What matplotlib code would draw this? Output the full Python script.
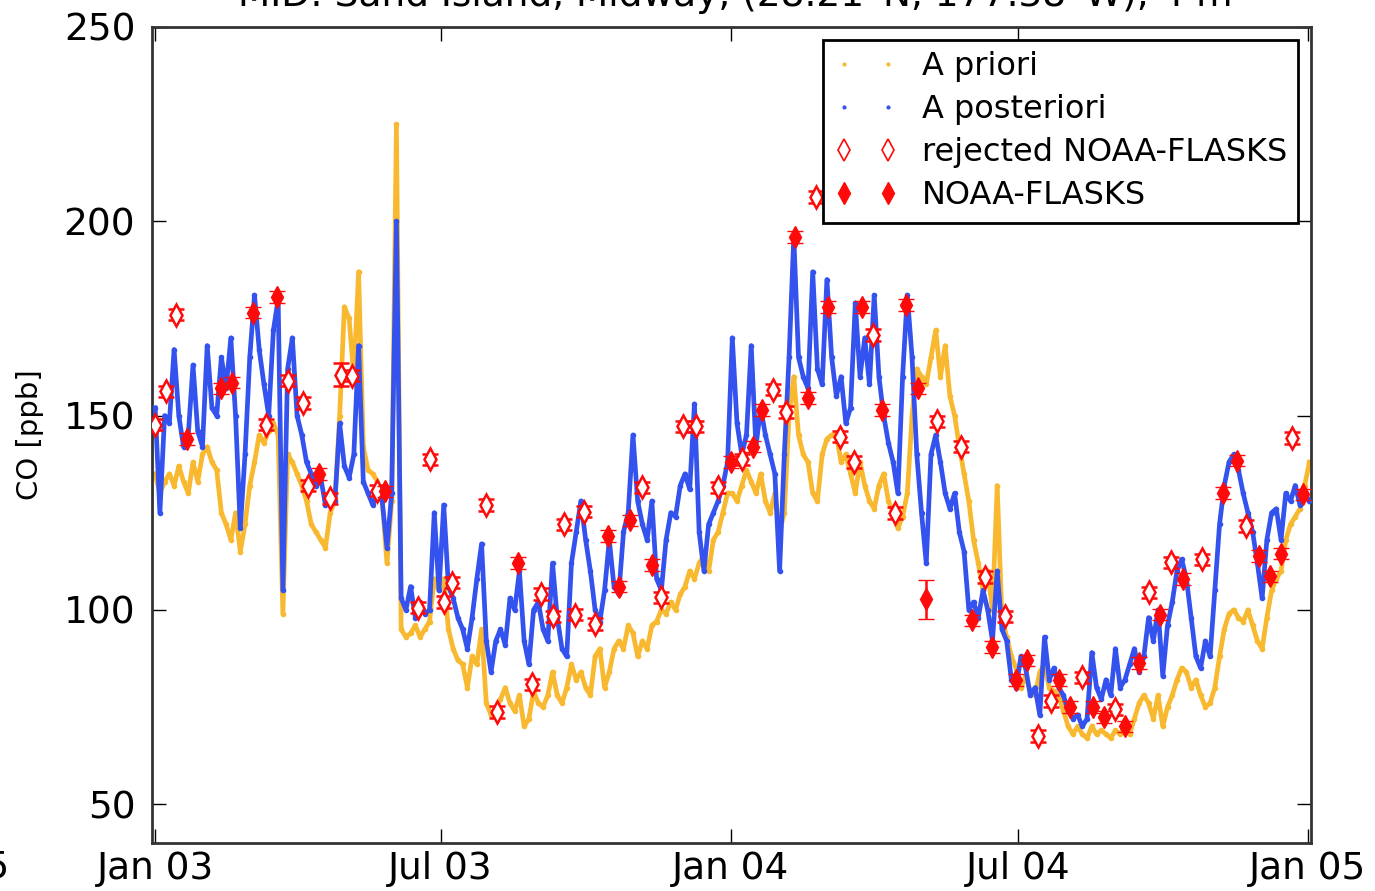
import matplotlib
matplotlib.use("Agg")
import matplotlib.pyplot as plt
import matplotlib.dates as mdates
from matplotlib.lines import Line2D
import pandas as pd

plt.rcParams['font.family'] = ['DejaVu Sans']

title = "MID: Sand Island, Midway, (28.21°N, 177.38°W), 4 m"

# model time series, one value every 3 days from 2003-01-01
model_start = "2003-01-01"
model_step = "3D"

prior = [
    135, 130, 133, 135, 132, 137, 133, 130, 138, 133,
    140, 142, 138, 136, 125, 122, 118, 125, 115, 122,
    132, 138, 145, 143, 146, 148, 145, 99, 140, 138,
    135, 132, 128, 122, 120, 118, 116, 125, 128, 150,
    178, 175, 160, 187, 142, 136, 135, 133, 128, 112,
    128, 225, 95, 93, 94, 96, 93, 95, 97, 108,
    105, 108, 95, 90, 87, 86, 80, 88, 86, 95,
    76, 73, 74, 77, 80, 76, 74, 78, 70, 72,
    79, 76, 75, 78, 84, 78, 76, 80, 86, 82,
    84, 80, 78, 88, 90, 80, 84, 90, 92, 90,
    96, 94, 88, 92, 90, 96, 97, 100, 99, 102,
    100, 104, 106, 110, 108, 112, 114, 110, 118, 120,
    125, 130, 130, 128, 132, 136, 133, 130, 135, 128,
    125, 130, 120, 125, 150, 160, 145, 140, 138, 130,
    128, 140, 144, 145, 145, 138, 140, 135, 130, 138,
    132, 128, 126, 132, 135, 128, 125, 121, 124, 130,
    150, 162, 160, 158, 165, 172, 160, 168, 155, 150,
    142, 135, 128, 118, 112, 105, 110, 100, 132, 98,
    93, 88, 85, 80, 83, 79, 78, 84, 86, 80,
    79, 78, 74, 70, 68, 70, 68, 67, 70, 68,
    69, 68, 67, 69, 68, 70, 68, 72, 76, 78,
    76, 72, 78, 70, 75, 78, 82, 85, 84, 80,
    82, 78, 75, 76, 80, 88, 95, 99, 100, 98,
    97, 100, 96, 92, 90, 98, 105, 108, 110, 118,
    122, 124, 126, 132, 138,
]

posterior = [
    152, 125, 150, 148, 167, 150, 142, 145, 163, 146,
    142, 168, 152, 150, 165, 157, 170, 150, 121, 140,
    165, 181, 167, 158, 150, 172, 180, 105, 162, 170,
    150, 145, 138, 135, 132, 134, 127, 130, 128, 148,
    137, 134, 140, 168, 133, 130, 127, 130, 128, 116,
    130, 200, 103, 100, 106, 98, 102, 99, 100, 125,
    105, 127, 106, 103, 98, 95, 90, 98, 108, 117,
    92, 84, 92, 95, 91, 103, 100, 110, 92, 86,
    100, 102, 95, 92, 112, 98, 90, 88, 112, 120,
    128, 118, 110, 100, 97, 105, 118, 106, 104, 120,
    125, 145, 128, 122, 118, 128, 108, 105, 118, 125,
    124, 132, 135, 131, 153, 120, 110, 122, 125, 128,
    132, 138, 170, 148, 140, 145, 168, 142, 152, 145,
    140, 135, 110, 140, 165, 196, 165, 160, 157, 187,
    162, 158, 185, 165, 155, 160, 148, 152, 179, 160,
    170, 158, 181, 160, 150, 143, 138, 130, 160, 181,
    165, 140, 125, 112, 140, 145, 138, 130, 126, 130,
    120, 115, 100, 102, 98, 105, 100, 92, 110, 95,
    92, 82, 80, 88, 85, 78, 80, 73, 93, 82,
    85, 80, 78, 74, 72, 73, 70, 72, 89, 80,
    77, 82, 78, 90, 80, 82, 86, 90, 84, 88,
    98, 92, 100, 83, 96, 102, 110, 113, 108, 98,
    88, 85, 92, 88, 105, 122, 132, 138, 140, 136,
    130, 125, 120, 112, 103, 118, 125, 126, 118, 130,
    128, 132, 127, 130, 128,
]

# NOAA flask samples used in the inversion
flask_dates = [
    "2003-01-21", "2003-02-12", "2003-02-19", "2003-03-04", "2003-03-19",
    "2003-04-15", "2003-05-27", "2003-08-19", "2003-10-15", "2003-10-22",
    "2003-10-29", "2003-11-12", "2004-01-01", "2004-01-15", "2004-01-21",
    "2004-02-11", "2004-02-19", "2004-03-03", "2004-03-24", "2004-04-06",
    "2004-04-21", "2004-04-29", "2004-05-04", "2004-06-02", "2004-06-15",
    "2004-06-30", "2004-07-07", "2004-07-27", "2004-08-03", "2004-08-18",
    "2004-08-25", "2004-09-07", "2004-09-16", "2004-09-29", "2004-10-14",
    "2004-11-08", "2004-11-17", "2004-12-01", "2004-12-08", "2004-12-15",
    "2004-12-29",
]
flask_co = [
    144.0, 157.0, 158.5, 176.5, 180.5,
    135.0, 130.5, 112.0, 119.0, 106.0,
    123.0, 111.5, 138.0, 142.0, 151.5,
    196.0, 154.5, 178.0, 178.0, 151.5,
    178.5, 157.0, 102.7, 97.3, 90.4,
    82.0, 87.0, 82.0, 75.0, 75.0,
    72.5, 70.0, 86.3, 98.8, 108.0,
    130.0, 138.4, 113.8, 108.6, 114.5,
    129.7,
]
flask_err = [
    1.5, 1.5, 1.5, 1.5, 1.5,
    1.5, 1.5, 1.5, 1.5, 1.5,
    1.5, 1.5, 1.5, 1.5, 1.5,
    1.5, 1.5, 1.5, 1.5, 1.5,
    1.5, 1.5, 5.0, 1.5, 1.5,
    1.5, 1.5, 1.5, 1.5, 1.5,
    1.5, 1.5, 1.5, 1.5, 1.5,
    1.5, 1.5, 1.5, 1.5, 1.5,
    1.5,
]

# NOAA flask samples rejected by the inversion
rejected_dates = [
    "2003-01-01", "2003-01-08", "2003-01-14", "2003-03-12", "2003-03-26",
    "2003-04-05", "2003-04-08", "2003-04-22", "2003-04-29", "2003-05-06",
    "2003-05-22", "2003-06-17", "2003-06-24", "2003-07-03", "2003-07-08",
    "2003-07-30", "2003-08-06", "2003-08-28", "2003-09-03", "2003-09-10",
    "2003-09-17", "2003-09-24", "2003-09-30", "2003-10-07", "2003-11-06",
    "2003-11-18", "2003-12-02", "2003-12-10", "2003-12-24", "2004-01-08",
    "2004-01-28", "2004-02-05", "2004-02-24", "2004-03-10", "2004-03-19",
    "2004-03-31", "2004-04-14", "2004-05-11", "2004-05-26", "2004-06-10",
    "2004-06-23", "2004-07-14", "2004-07-22", "2004-08-11", "2004-09-01",
    "2004-09-22", "2004-10-06", "2004-10-26", "2004-11-23", "2004-12-22",
]
rejected_co = [
    147.7, 156.2, 176.0, 147.7, 159.0,
    153.3, 132.0, 128.7, 160.5, 160.3,
    130.7, 100.6, 138.7, 102.0, 107.0,
    127.0, 73.7, 80.8, 104.0, 98.3,
    122.0, 98.8, 125.3, 96.3, 131.5,
    103.2, 147.2, 147.2, 131.5, 138.7,
    156.7, 151.0, 206.3, 144.6, 138.0,
    170.8, 125.0, 148.5, 142.0, 108.4,
    98.3, 67.5, 76.5, 82.6, 74.4,
    104.5, 112.2, 113.0, 121.5, 144.3,
]
rejected_err = [1.5] * 8 + [3.0] + [1.5] * 41

xtick_dates = ["2003-01-01", "2003-07-01", "2004-01-01", "2004-07-01", "2005-01-01"]
yticks = [50, 100, 150, 200, 250]

ORANGE = "#f8b930"
BLUE = "#3352ee"
RED = "#ff0a0a"

W, H = 1375, 891
fig = plt.figure(figsize=(W / 100, H / 100), dpi=100)
ax = fig.add_axes([152 / W, 1 - 843 / H, (1311 - 152) / W, (843 - 27) / H])

t = pd.date_range(model_start, periods=len(prior), freq=model_step)
ax.plot(t, prior, color=ORANGE, lw=3.4, marker=".", ms=6, zorder=2)
ax.plot(t, posterior, color=BLUE, lw=3.4, marker=".", ms=6, zorder=3)

ax.errorbar(pd.to_datetime(rejected_dates), rejected_co, yerr=rejected_err,
            fmt="d", ms=11, mfc="white", mec=RED, mew=1.8, ecolor=RED,
            elinewidth=1.8, capsize=6, capthick=1.8, zorder=4)
ax.errorbar(pd.to_datetime(flask_dates), flask_co, yerr=flask_err,
            fmt="d", ms=11, mfc=RED, mec=RED, mew=1.0, ecolor=RED,
            elinewidth=1.8, capsize=6, capthick=1.8, zorder=5)

t0 = pd.Timestamp(model_start)
ax.set_xlim(t0 - pd.Timedelta(days=2), t0 + pd.Timedelta(days=733))
ax.set_ylim(40, 250)
ax.set_xticks(pd.to_datetime(xtick_dates))
ax.xaxis.set_major_formatter(mdates.DateFormatter("%b %y"))
ax.set_yticks(yticks)

ax.tick_params(direction="in", length=10, width=1, top=True, right=True,
               labelsize=27, colors="black")
ax.tick_params(axis="x", pad=6)
ax.tick_params(axis="y", pad=12)
for sp in ax.spines.values():
    sp.set_linewidth(2)
    sp.set_color("#333333")

ax.set_ylabel("CO [ppb]", fontsize=21, labelpad=14)

handles = [
    Line2D([], [], ls="none", marker=".", ms=4, color=ORANGE),
    Line2D([], [], ls="none", marker=".", ms=4, color=BLUE),
    Line2D([], [], ls="none", marker="d", ms=11, mfc="white", mec=RED, mew=1.2),
    Line2D([], [], ls="none", marker="d", ms=11, color=RED),
]
labels = ["A priori", "A posteriori", "rejected NOAA-FLASKS", "NOAA-FLASKS"]
leg = ax.legend(handles, labels, loc="upper right", numpoints=2, fontsize=23,
                fancybox=False, framealpha=1, edgecolor="black",
                borderaxespad=0.4, handlelength=2.0, labelspacing=0.38,
                handletextpad=0.75, borderpad=0.35)
leg.get_frame().set_linewidth(2)
leg.set_zorder(10)

fig.text((152 + 1311) / 2 / W + 0.003, 1 - 6 / H, title, ha="center",
         va="baseline", fontsize=27)
fig.text(10 / W, 1 - 868 / H, "Jan 05", ha="right", va="center", fontsize=27)

fig.savefig("out.png", dpi=100)
